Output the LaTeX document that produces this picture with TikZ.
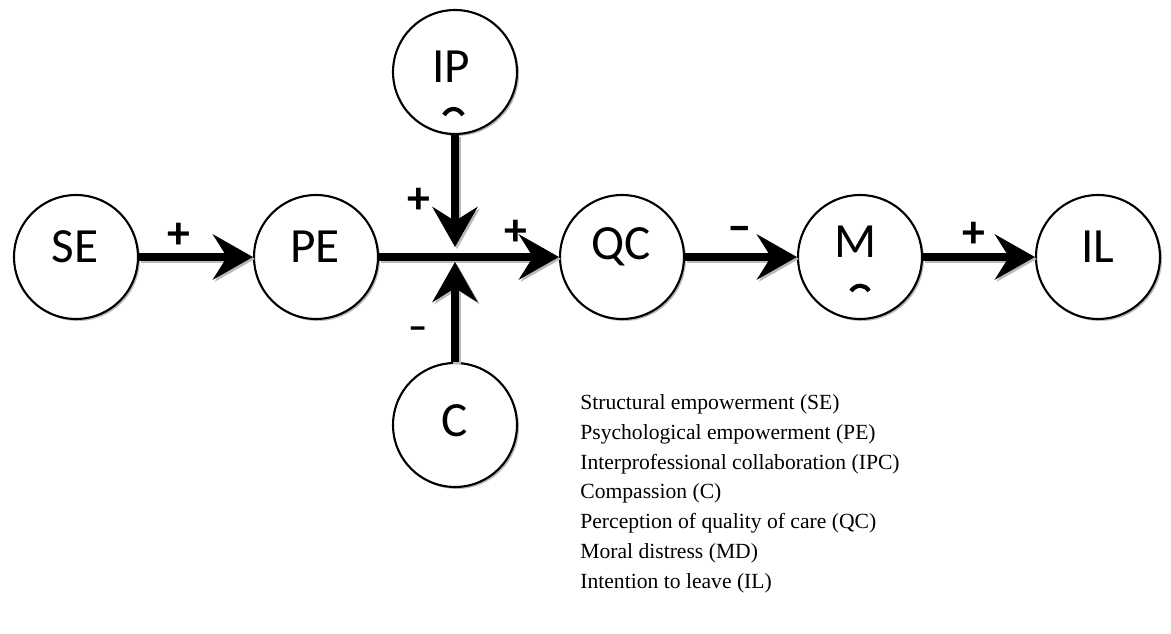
\documentclass[tikz,border=0pt]{standalone}
\usepackage{fontspec}
\setmainfont{Liberation Serif}
\newfontfamily\carlitofont{Carlito}
\usetikzlibrary{arrows.meta,shadows}
\begin{document}
\begin{tikzpicture}[x=0.02cm,y=-0.02cm,
  vartext/.style={font=\carlitofont\fontsize{28}{30}\selectfont,inner sep=0pt},
  var/.style={circle,draw=black,line width=1.2pt,fill=white,minimum size=2.48cm,inner sep=0pt,
    font=\carlitofont\fontsize{28}{30}\selectfont,
    drop shadow={shadow xshift=0.04cm,shadow yshift=-0.04cm,fill=gray!55,opacity=1}},
  link/.style={line width=0.16cm,-{Stealth[length=0.8cm,width=0.9cm,inset=0.28cm]},
    preaction={draw=gray!55,line width=0.16cm,transform canvas={shift={(0.04cm,-0.04cm)}}}},
  sign/.style={font=\carlitofont\bfseries\fontsize{26}{28}\selectfont,inner sep=0pt},
  cut/.style={line width=2.4pt,line cap=butt},
  legend/.style={font=\fontsize{12.3}{17}\selectfont,align=left,anchor=north west,inner sep=0pt}]
\useasboundingbox (0,0) rectangle (1171,634);
\node[var] (SE) at (76,257) {};
\node[var] (PE) at (316,257) {};
\node[var] (IP) at (455,72) {};
\node[var] (C) at (455,425) {};
\node[var] (QC) at (622,257) {};
\node[var] (M) at (860,257) {};
\node[var] (IL) at (1098,257) {};
\node[vartext] (SEt) at (75,247) {SE};
\node[vartext] (PEt) at (315,247) {PE};
\node[vartext] (QCt) at (621,247) {QC};
\node[vartext] (ILt) at (1098,247) {IL};
\node[vartext] (IPt) at (451,67) {IP};
\node[vartext] (Ct) at (455,421) {C};
\node[vartext] (Mt) at (856,242) {M};
\draw[cut] (444,115) .. controls (449,107) and (458,107) .. (463,115);
\draw[cut] (851,291) .. controls (856,284) and (865,284) .. (869,291);
\coordinate (J) at (455,257);
\draw[link] (SE) -- (PE);
\draw[link] (PE) -- (QC);
\draw[link,shorten >=0.2cm] (IP) -- (J);
\draw[link,shorten >=0.1cm] (C) -- (J);
\draw[link] (QC) -- (M);
\draw[link] (M) -- (IL);
\node[sign] (s1) at (179,236) {+};
\node[sign] (s2) at (419,201) {+};
\node[sign] (s3) at (516,233) {+};
\node[sign,font=\carlitofont\bfseries\fontsize{22}{24}\selectfont] (s4) at (418,333) {\textendash};
\node[sign,font=\carlitofont\bfseries\fontsize{28}{30}\selectfont] (s5) at (740,234) {\textendash};
\node[sign] (s6) at (974,235) {+};
\node[legend] (L) at (580,394) {Structural empowerment (SE)\\
Psychological empowerment (PE)\\
Interprofessional collaboration (IPC)\\
Compassion (C)\\
Perception of quality of care (QC)\\
Moral distress (MD)\\
Intention to leave (IL)};
\end{tikzpicture}
\end{document}
